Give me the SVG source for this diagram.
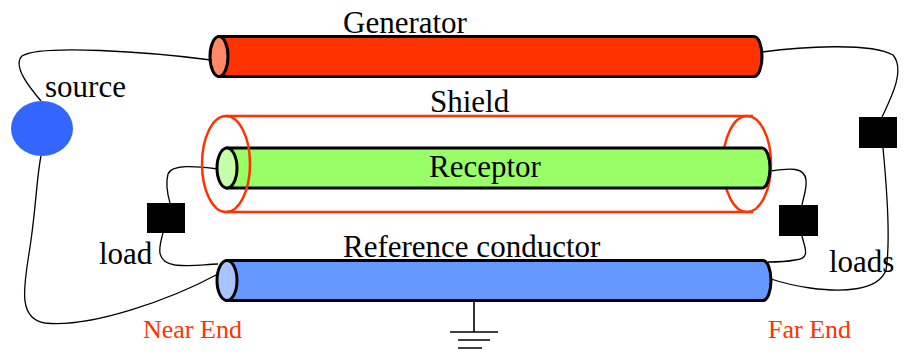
<svg xmlns="http://www.w3.org/2000/svg" width="907" height="360" viewBox="0 0 907 360">
<style>
text{font-family:"Liberation Serif","Times New Roman",serif;fill:#000}
.lbl{font-size:31px}
.end{font-size:26px;fill:#FF3300}
.wire{fill:none;stroke:#000;stroke-width:1.3}
.cyl{stroke:#000;stroke-width:3}
.shield{fill:none;stroke:#FF3300;stroke-width:2.5}
.load{fill:#000}
.gnd{stroke:#000;stroke-width:1.6}
</style>
<rect width="907" height="360" fill="#fff"/>
<g id="connectors">
<path class="wire" d="M211,60 C150,52 40,44 22,56 C12,66 30,88 41,101"/>
<path class="wire" d="M41,156 C37,175 36,205 31,240 C26,278 14,318 45,323 C90,328 170,300 218,274"/>
<path class="wire" d="M218,169 C195,166 172,164 168,174 C165,185 168,196 170,203"/>
<path class="wire" d="M163,233 C159,247 155,262 175,265 C195,267 205,264 218,264"/>
<path class="wire" d="M762,52 C800,47 870,42 893,55 C906,70 890,100 882,117"/>
<path class="wire" d="M883,148 C887,190 891,240 886,270 C878,292 840,292 810,288 C790,285 780,282 771,279"/>
<path class="wire" d="M771,171 C790,168 805,167 806,180 C807,190 803,198 802,205"/>
<path class="wire" d="M802,236 C804,246 812,259 795,260 C785,262 776,262 768,262"/>
</g>
<g id="generator">
<path class="cyl" fill="#FF3300" d="M219,36.5 L754,36.5 A8,20 0 0 1 754,76.5 L219,76.5 Z"/>
<ellipse class="cyl" cx="219" cy="56.5" rx="9" ry="20" fill="#FF8866"/>
<text class="lbl" x="343" y="33">Generator</text>
</g>
<g id="shield">
<ellipse class="shield" cx="747" cy="164" rx="24" ry="48"/>
<path class="shield" d="M226,116 L753,116 M226,212 L753,212"/>
<text class="lbl" x="430" y="112">Shield</text>
</g>
<g id="receptor">
<path class="cyl" fill="#99FF66" d="M227,148 L762,148 A8,20 0 0 1 762,188 L227,188 Z"/>
<ellipse class="cyl" cx="227" cy="168" rx="10" ry="20" fill="#C6FFAA"/>
<text class="lbl" x="429" y="177">Receptor</text>
</g>
<g id="shield-near">
<ellipse class="shield" cx="226" cy="164" rx="24" ry="48"/>
</g>
<g id="reference">
<path class="cyl" fill="#6699FF" d="M227,260.5 L763,260.5 A8,20 0 0 1 763,300.5 L227,300.5 Z"/>
<ellipse class="cyl" cx="227" cy="280.5" rx="10" ry="20" fill="#A8C4FF"/>
<text class="lbl" x="343" y="257">Reference conductor</text>
</g>
<g id="source">
<ellipse cx="42" cy="128.5" rx="31" ry="27.5" fill="#3366FF"/>
<text class="lbl" x="45" y="97">source</text>
</g>
<g id="load-near">
<rect class="load" x="147" y="203" width="38" height="30"/>
<text class="lbl" x="99" y="264">load</text>
</g>
<g id="load-far">
<rect class="load" x="779" y="205" width="39" height="31"/>
</g>
<g id="load-source-far">
<rect class="load" x="859" y="117" width="38" height="31"/>
<text class="lbl" x="829" y="272">loads</text>
</g>
<g id="ground">
<path class="gnd" d="M474,301 L474,332 M450,332 L498,332 M458,340 L490,340 M458,348 L482,348"/>
</g>
<g id="labels">
<text class="end" x="143" y="338">Near End</text>
<text class="end" x="768" y="338">Far End</text>
</g>
</svg>
